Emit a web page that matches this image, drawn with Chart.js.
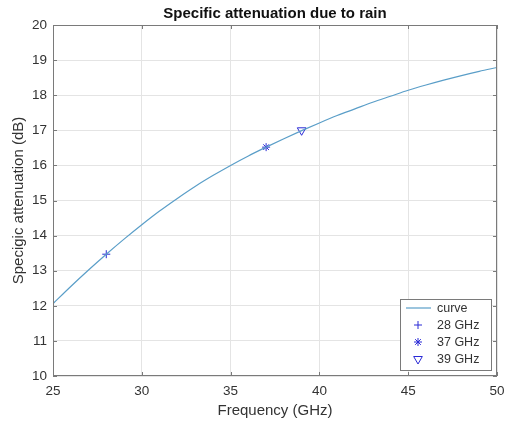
<!DOCTYPE html>
<html>
<head>
<meta charset="utf-8">
<title>Specific attenuation due to rain</title>
<script src="https://cdn.jsdelivr.net/npm/chart.js@4.4.1/dist/chart.umd.min.js"></script>
<style>
    html, body { margin: 0; padding: 0; background: #fff; }
    #wrap { width: 506px; height: 425px; }
</style>
</head>
<body>
<div id="wrap"><canvas id="rainChart" width="506" height="425"></canvas></div>
<script>
// --- Data ---
const freqGHz = [25, 26, 27, 28, 29, 30, 31, 32, 33, 34, 35, 36, 37, 38, 39,
                 40, 41, 42, 43, 44, 45, 46, 47, 48, 49, 50];
const attenDB = [12.06, 12.55, 13.02, 13.47, 13.90, 14.31, 14.70, 15.06, 15.40, 15.71,
                 16.00, 16.27, 16.52, 16.76, 16.99, 17.21, 17.42, 17.61, 17.80, 17.97,
                 18.14, 18.29, 18.43, 18.56, 18.68, 18.79];

const markerLabels = ['28 GHz', '37 GHz', '39 GHz'];
const markerFreq = [28, 37, 39];
const markerAtten = [13.47, 16.52, 17.0];

const xTicks = [25, 30, 35, 40, 45, 50];
const yTicks = [10, 11, 12, 13, 14, 15, 16, 17, 18, 19, 20];

const titleText = 'Specific attenuation due to rain';
const xTitle = 'Frequency (GHz)';
const yTitle = 'Specigic attenuation (dB)';

// --- Styles ---
const FONT = 'Liberation Sans, Arial, Helvetica, sans-serif';
const curveColor = '#5a9ec8';
const markerColor = '#2a2ad6';
const axisColor = '#7a7a7a';
const gridColor = '#e4e4e4';
const textColor = '#333333';

// MATLAB-like box with inward ticks + title
const matlabBox = {
    id: 'matlabBox',
    afterDatasetsDraw(chart) {
        const { ctx, chartArea: a, scales } = chart;
        const len = 4;
        ctx.save();
        ctx.strokeStyle = axisColor;
        ctx.lineWidth = 1;
        ctx.beginPath();
        xTicks.forEach(v => {
            const x = Math.round(scales.x.getPixelForValue(v)) + 0.5;
            ctx.moveTo(x, a.bottom); ctx.lineTo(x, a.bottom - len);
            ctx.moveTo(x, a.top); ctx.lineTo(x, a.top + len);
        });
        yTicks.forEach(v => {
            const y = Math.round(scales.y.getPixelForValue(v)) + 0.5;
            ctx.moveTo(a.left, y); ctx.lineTo(a.left + len, y);
            ctx.moveTo(a.right, y); ctx.lineTo(a.right - len, y);
        });
        ctx.stroke();
        ctx.strokeRect(Math.round(a.left) + 0.5, Math.round(a.top) + 0.5,
                       Math.round(a.right - a.left) - 1, Math.round(a.bottom - a.top) - 1);
        ctx.restore();
    },
    afterDraw(chart) {
        const { ctx, chartArea: a } = chart;
        ctx.save();
        ctx.fillStyle = '#111';
        ctx.font = 'bold 15px ' + FONT;
        ctx.textAlign = 'center';
        ctx.textBaseline = 'middle';
        ctx.fillText(titleText, (a.left + a.right) / 2, 14);
        ctx.restore();
    }
};

// Legend inside the axes, lower right
const boxLegend = {
    id: 'boxLegend',
    afterDraw(chart) {
        const { ctx, chartArea: a } = chart;
        const w = 91, h = 71;
        const bx = Math.round(a.right) - 6 - w, by = Math.round(a.bottom) - 6 - h;
        ctx.save();
        ctx.fillStyle = '#fff';
        ctx.fillRect(bx, by, w, h);
        ctx.strokeStyle = axisColor;
        ctx.lineWidth = 1;
        ctx.strokeRect(bx + 0.5, by + 0.5, w, h);
        ctx.font = '12.5px ' + FONT;
        ctx.textBaseline = 'middle';
        chart.data.datasets.forEach((ds, i) => {
            const y = by + 9 + i * 17;
            const cx = bx + 18;
            ctx.strokeStyle = ds.borderColor;
            ctx.lineWidth = ds.borderWidth;
            if (ds.showLine !== false) {
                ctx.beginPath();
                ctx.moveTo(bx + 6, y); ctx.lineTo(bx + 31, y);
                ctx.stroke();
            } else {
                ctx.fillStyle = ds.backgroundColor;
                Chart.helpers.drawPoint(ctx, {
                    pointStyle: ds.pointStyle,
                    radius: ds.pointRadius,
                    rotation: ds.pointRotation || 0,
                    borderWidth: ds.borderWidth
                }, cx, y);
            }
            ctx.fillStyle = textColor;
            ctx.fillText(ds.label, bx + 37, y + 0.5);
        });
        ctx.restore();
    }
};

function markerSet(i, style, radius, rotation) {
    return {
        label: markerLabels[i],
        data: [{ x: markerFreq[i], y: markerAtten[i] }],
        showLine: false,
        pointStyle: style,
        pointRadius: radius,
        pointHoverRadius: radius,
        pointRotation: rotation,
        borderColor: markerColor,
        backgroundColor: 'rgba(0,0,0,0)',
        pointBorderColor: markerColor,
        pointBackgroundColor: 'rgba(0,0,0,0)',
        borderWidth: 1,
        pointBorderWidth: 1
    };
}

const chart = new Chart(document.getElementById('rainChart'), {
    type: 'scatter',
    data: {
        datasets: [
            {
                label: 'curve',
                data: freqGHz.map((f, i) => ({ x: f, y: attenDB[i] })),
                showLine: true,
                borderColor: curveColor,
                backgroundColor: curveColor,
                borderWidth: 1.2,
                pointRadius: 0,
                cubicInterpolationMode: 'monotone',
                fill: false
            },
            markerSet(0, 'cross', 4, 0),
            markerSet(1, 'star', 4, 0),
            markerSet(2, 'triangle', 5, 180)
        ]
    },
    options: {
        responsive: false,
        animation: false,
        layout: { padding: { top: 25, right: 9, left: 0, bottom: 0 } },
        plugins: {
            legend: { display: false },
            title: { display: false },
            tooltip: { enabled: false }
        },
        scales: {
            x: {
                type: 'linear',
                min: 25, max: 50,
                afterBuildTicks: s => { s.ticks = xTicks.map(v => ({ value: v })); },
                afterFit: s => { s.height = 49; s.paddingLeft = 0; s.paddingRight = 0; },
                grid: { color: gridColor, drawTicks: false },
                border: { display: false },
                ticks: { padding: 7, color: textColor, font: { family: FONT, size: 13.5 } },
                title: {
                    display: true, text: xTitle, color: textColor,
                    font: { family: FONT, size: 15 }, padding: { top: 0, bottom: 5 }
                }
            },
            y: {
                type: 'linear',
                min: 10, max: 20,
                afterBuildTicks: s => { s.ticks = yTicks.map(v => ({ value: v })); },
                afterFit: s => { s.width = 53; },
                grid: { color: gridColor, drawTicks: false },
                border: { display: false },
                ticks: { padding: 6, color: textColor, font: { family: FONT, size: 13.5 } },
                title: {
                    display: true, text: yTitle, color: textColor,
                    font: { family: FONT, size: 15 }, padding: { top: 10, bottom: 0 }
                }
            }
        }
    },
    plugins: [matlabBox, boxLegend]
});
</script>
</body>
</html>
